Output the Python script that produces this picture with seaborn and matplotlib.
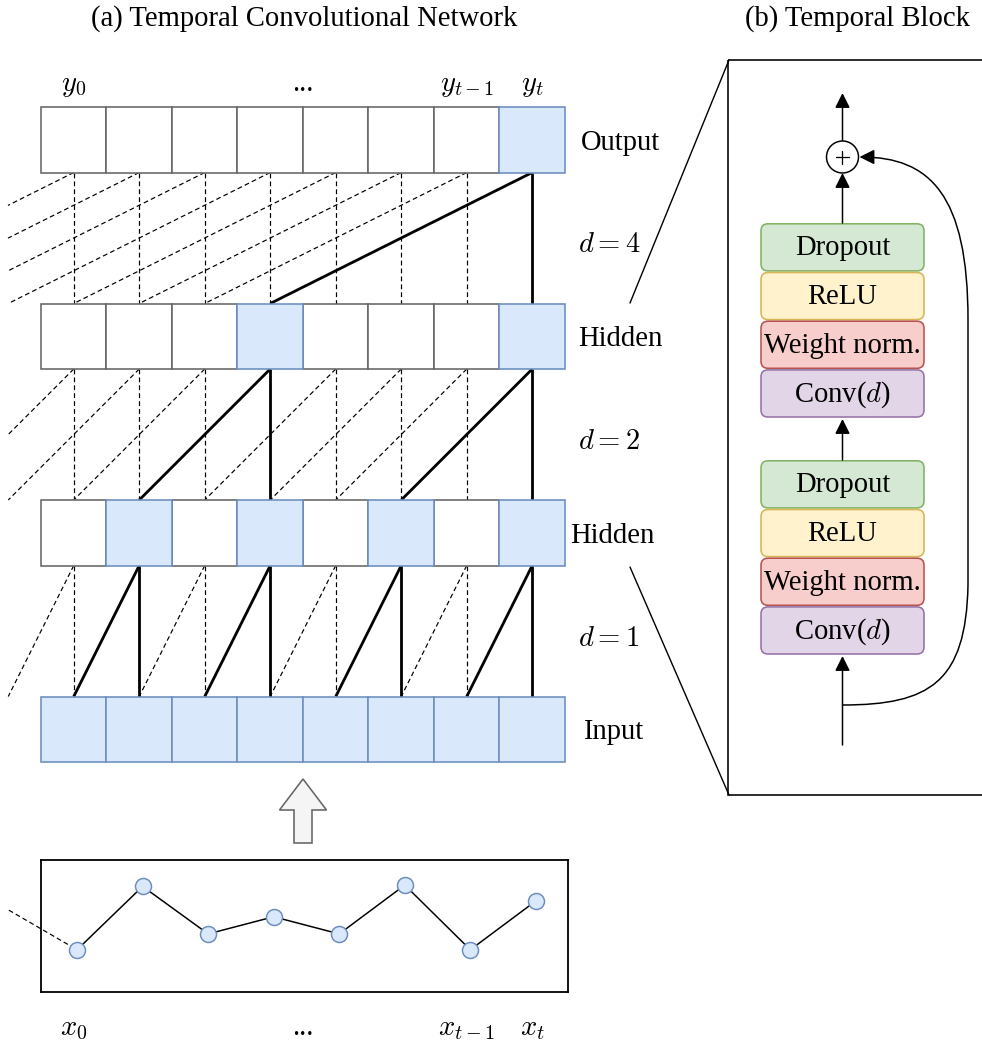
import numpy as np
import matplotlib
matplotlib.use("Agg")
import matplotlib.pyplot as plt
import seaborn as sns
from matplotlib.patches import Rectangle, FancyBboxPatch, Circle, Polygon, FancyArrowPatch
from matplotlib.path import Path

sns.set_theme(style="white")
plt.rcParams["font.family"] = ["Liberation Serif", "DejaVu Serif"]
plt.rcParams["mathtext.fontset"] = "cm"
plt.rcParams["text.color"] = "black"

# ---------------------------------------------------------------- data
n_steps = 8
dilations = [4, 2, 1]                       # dilation between consecutive layers (top -> bottom)
layer_names = ["Output", "Hidden", "Hidden", "Input"]
active_cells = [[7], [3, 7], [1, 3, 5, 7], list(range(8))]   # cells on the receptive path of y_t
top_labels = ["$y_0$", "...", "$y_{t-1}$", "$y_t$"]
bottom_labels = ["$x_0$", "...", "$x_{t-1}$", "$x_t$"]
label_steps = [0, 3.5, 6, 7]
signal = [0.32, 0.80, 0.44, 0.57, 0.44, 0.81, 0.32, 0.69]
signal_lead = [-1.04, 0.62]                 # where the series comes from before x_0

block_names = ["Dropout", "ReLU", "Weight norm.", "Conv($d$)"]
block_fill = ["#d5e8d4", "#fff2cc", "#f8cecc", "#e1d5e7"]
block_edge = ["#82b366", "#d6b656", "#b85450", "#9673a6"]

BLUE_FILL, BLUE_EDGE, GREY_EDGE = "#dae8fc", "#6c8ebf", "#666666"

# ---------------------------------------------------------------- layout (pixels)
W, H = 982, 1048
PX = 0.72                     # points per pixel at 100 dpi
X0, Y0, CELL = 41, 107, 65.5  # grid origin and cell size
LAYER_GAP = 3 * CELL
CLIP_X = 8
FS = 20.6

fig = plt.figure(figsize=(W / 100, H / 100), dpi=100)
ax = fig.add_axes([0, 0, 1, 1])
ax.set_xlim(0, W)
ax.set_ylim(H, 0)
ax.axis("off")


def cx(i):
    return X0 + CELL * (i + 0.5)


def layer_top(k):
    return Y0 + LAYER_GAP * k


def connect(x1, y1, x2, y2, solid):
    if x2 < CLIP_X:
        t = (x1 - CLIP_X) / (x1 - x2)
        x2, y2 = CLIP_X, y1 + t * (y2 - y1)
    if solid:
        ax.plot([x1, x2], [y1, y2], color="black", lw=2.8 * PX, solid_capstyle="butt", zorder=2)
    else:
        ax.plot([x1, x2], [y1, y2], color="black", lw=1.2 * PX, dashes=(4, 2.6), zorder=1)


# dilated connections
for k, d in enumerate(dilations):
    y_src = layer_top(k) + CELL
    y_dst = layer_top(k + 1)
    for i in range(n_steps):
        solid = i in active_cells[k]
        connect(cx(i), y_src, cx(i), y_dst, solid)
        connect(cx(i), y_src, cx(i - d), y_dst, solid)

# layer cells
for k, name in enumerate(layer_names):
    for i in range(n_steps):
        on = i in active_cells[k]
        ax.add_patch(Rectangle((X0 + CELL * i, layer_top(k)), CELL, CELL,
                               facecolor=BLUE_FILL if on else "white",
                               edgecolor=BLUE_EDGE if on else GREY_EDGE,
                               lw=1.6 * PX, zorder=3 + on))

name_x = [581, 578, 570, 583]
for k, name in enumerate(layer_names):
    ax.text(name_x[k], layer_top(k) + CELL / 2 + 10, name, fontsize=FS, ha="left", va="baseline")
for k, d in enumerate(dilations):
    ax.text(578, layer_top(k) + CELL + 80, f"$d = {d}$", fontsize=FS, ha="left", va="baseline")

for s, lab in zip(label_steps, top_labels):
    ax.text(cx(s), 91, lab, fontsize=FS, ha="center", va="baseline")
for s, lab in zip(label_steps, bottom_labels):
    ax.text(cx(s), 1035, lab, fontsize=FS, ha="center", va="baseline")

# hollow up-arrow between the series and the input layer
ax.add_patch(Polygon([(303, 779), (326.5, 810), (312, 810), (312, 843),
                      (294, 843), (294, 810), (279.5, 810)],
                     closed=True, facecolor="#f5f5f5", edgecolor=GREY_EDGE, lw=1.6 * PX))

# titles
ax.text(91, 26, "(a) Temporal Convolutional Network", fontsize=FS, ha="left", va="baseline")
ax.text(745, 26, "(b) Temporal Block", fontsize=FS, ha="left", va="baseline")

# ---------------------------------------------------------------- input series
ax_ts = fig.add_axes([41 / W, (H - 992) / H, (568 - 41) / W, 132 / H])
steps = np.arange(n_steps)
sns.lineplot(x=steps, y=signal, color="black", lw=1.5 * PX, ax=ax_ts, zorder=2)
sns.scatterplot(x=steps, y=signal, s=(16 * PX) ** 2, color=BLUE_FILL, edgecolor=BLUE_EDGE,
                linewidth=1.5 * PX, ax=ax_ts, zorder=3, legend=False)
ax_ts.plot([signal_lead[0], 0], [signal_lead[1], signal[0]], color="black", lw=1.2 * PX,
           dashes=(4, 2.6), clip_on=False, zorder=1)
ax_ts.set_xlim(-0.55, 7.49)
ax_ts.set_ylim(0, 1)
ax_ts.set_xticks([])
ax_ts.set_yticks([])
ax_ts.set_xlabel("")
ax_ts.set_ylabel("")
ax_ts.patch.set_alpha(0)
for sp in ax_ts.spines.values():
    sp.set_visible(True)
    sp.set_color("black")
    sp.set_linewidth(1.8 * PX)

# ---------------------------------------------------------------- temporal block panel
ax.add_patch(Rectangle((728, 60), 300, 735, facecolor="none", edgecolor="black", lw=1.6 * PX))
ax.plot([729, 630], [60, 303], color="black", lw=1.4 * PX)
ax.plot([630, 729], [567, 795], color="black", lw=1.4 * PX)

BX, BW, BH = 761, 163, 48.7
CX = BX + BW / 2
stack_tops = [223, 460]
for top in stack_tops:
    for j, name in enumerate(block_names):
        y = top + BH * j
        ax.add_patch(FancyBboxPatch((BX, y + 0.8), BW, BH - 1.6,
                                    boxstyle="round,pad=0,rounding_size=7",
                                    facecolor=block_fill[j], edgecolor=block_edge[j], lw=1.6 * PX))
        ax.text(CX, y + BH / 2 + 8, name, fontsize=FS, ha="center", va="baseline")

ARROW = dict(arrowstyle="-|>,head_length=0.9,head_width=0.45", mutation_scale=10,
             color="black", lw=1.5 * PX, shrinkA=0, shrinkB=0)
RC, R = 157, 16
ax.add_patch(FancyArrowPatch((CX, 745), (CX, 656), **ARROW))
ax.add_patch(FancyArrowPatch((CX, 460), (CX, 419), **ARROW))
ax.add_patch(FancyArrowPatch((CX, 223), (CX, RC + R), **ARROW))
ax.add_patch(FancyArrowPatch((CX, RC - R), (CX, 93), **ARROW))

# residual (skip) connection
skip = Path([(CX, 705), (930, 705), (966, 682), (968, 585),
             (968, 320), (968, 320),
             (968, 195), (930, 157), (CX + R + 1, 157)],
            [Path.MOVETO, Path.CURVE4, Path.CURVE4, Path.CURVE4,
             Path.LINETO, Path.LINETO,
             Path.CURVE4, Path.CURVE4, Path.CURVE4])
ax.add_patch(FancyArrowPatch(path=skip, **ARROW))

ax.add_patch(Circle((CX, RC), R, facecolor="white", edgecolor="black", lw=1.5 * PX, zorder=5))
ax.plot([CX - 6.5, CX + 6.5], [RC, RC], color="black", lw=1.3 * PX, zorder=6)
ax.plot([CX, CX], [RC - 6.5, RC + 6.5], color="black", lw=1.3 * PX, zorder=6)

fig.savefig("out.png", dpi=100)
